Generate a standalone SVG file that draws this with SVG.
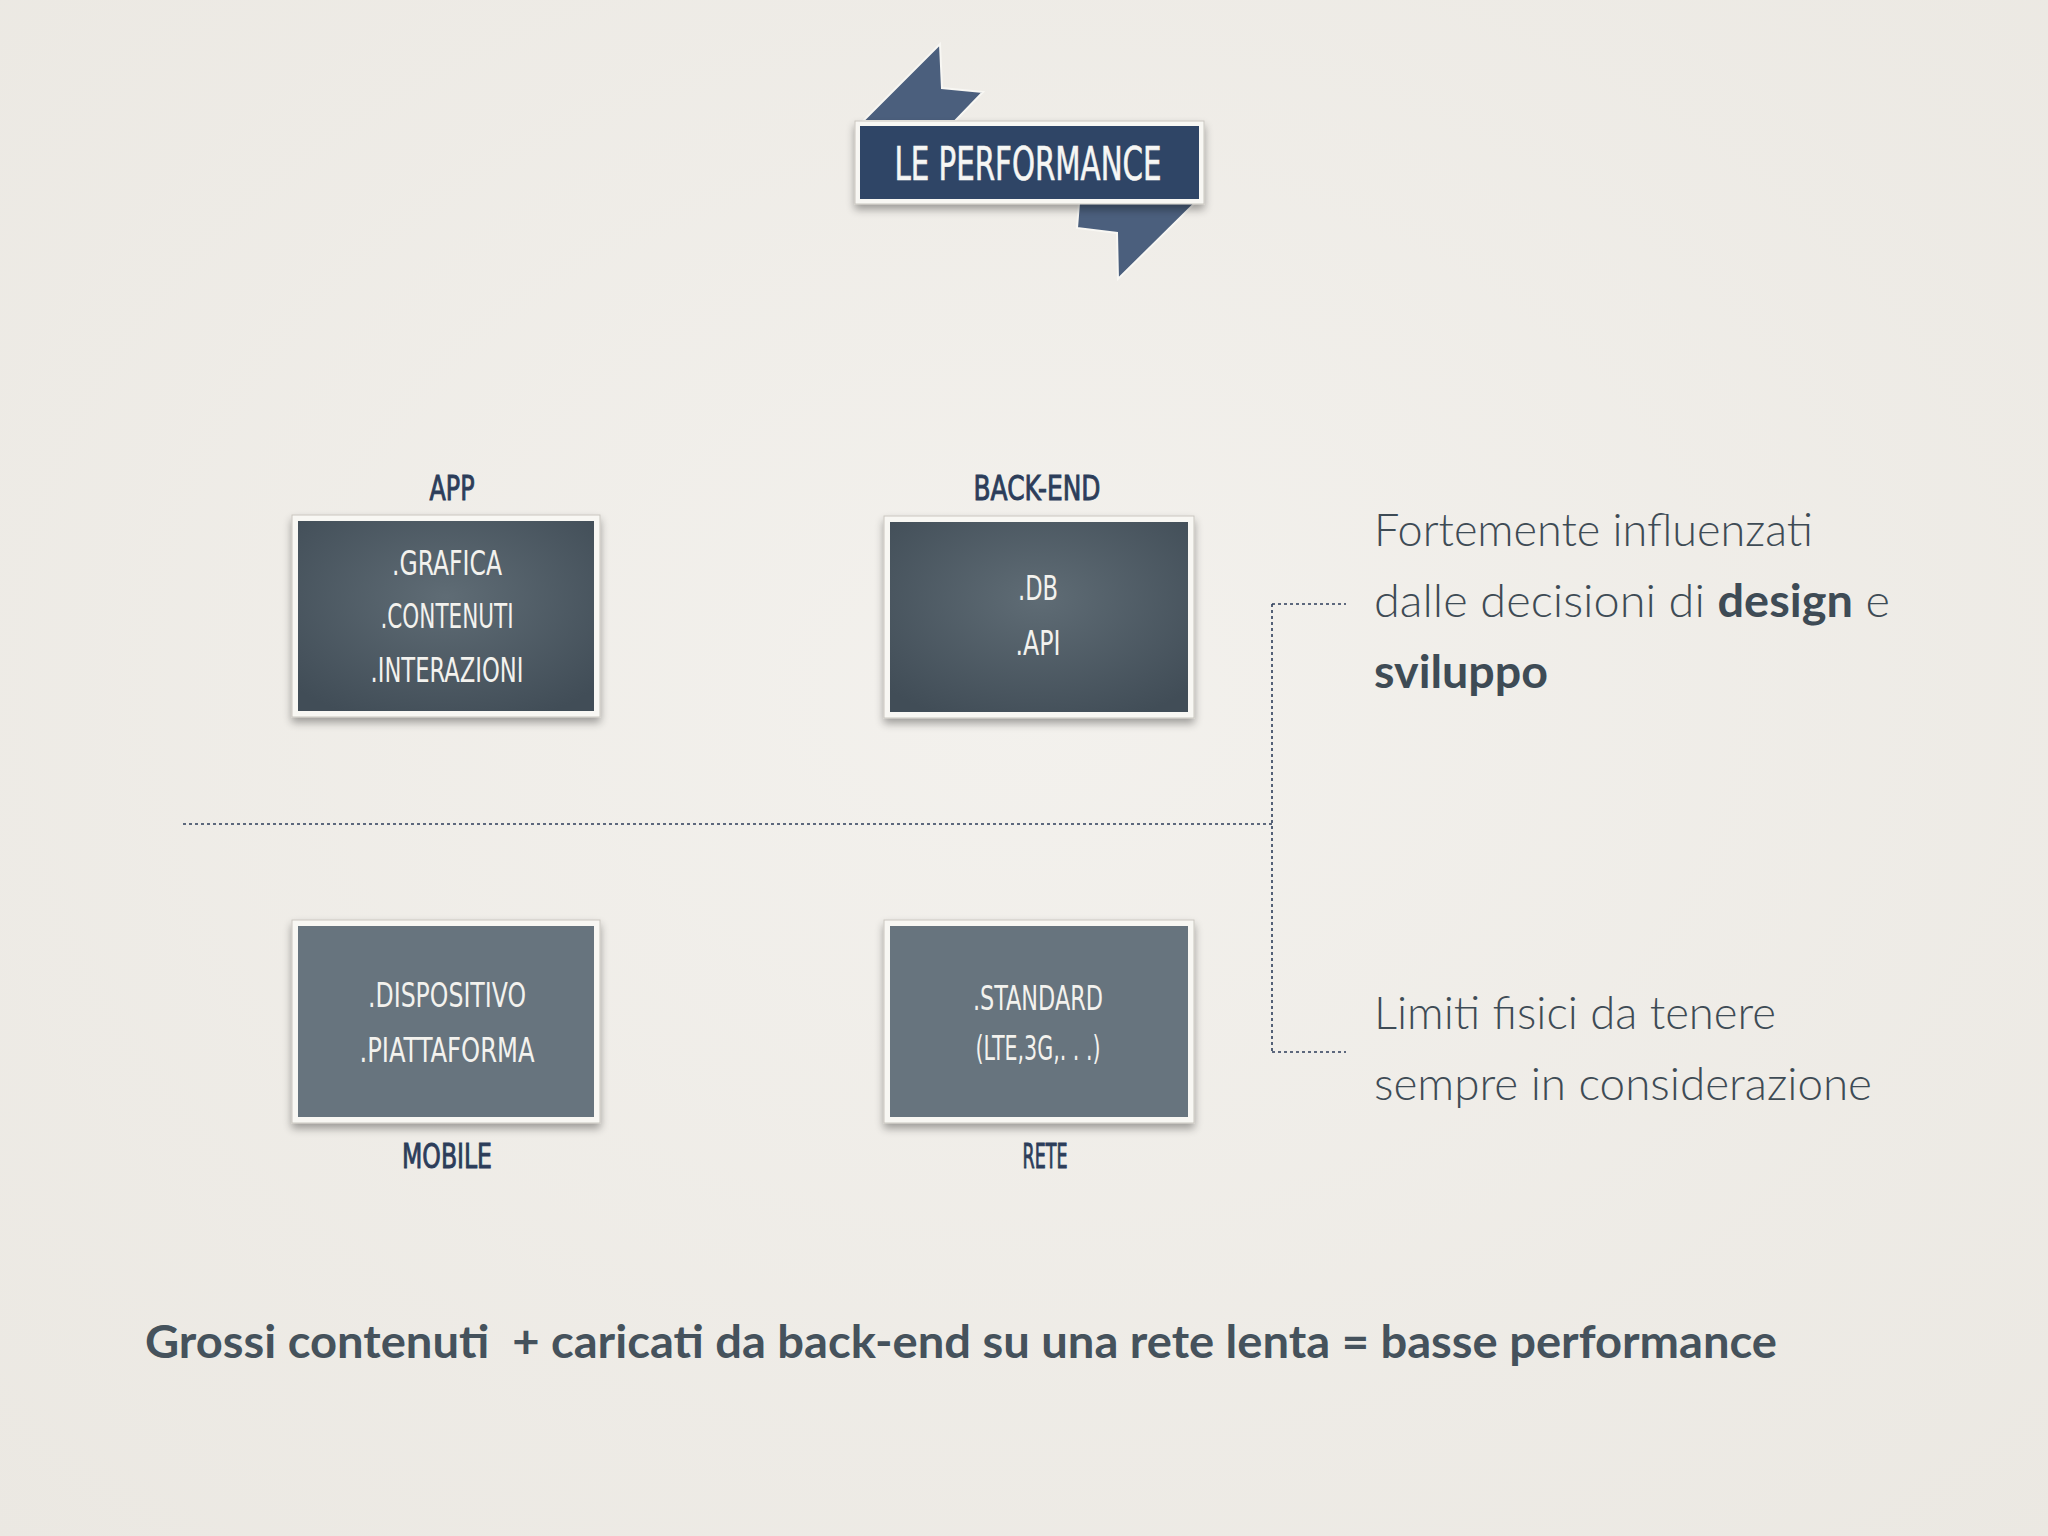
<svg xmlns="http://www.w3.org/2000/svg" width="2048" height="1536" viewBox="0 0 2048 1536">
<defs>
<style>
.cond{font-family:"DejaVu Sans Condensed","Liberation Sans Narrow","DejaVu Sans",sans-serif;font-stretch:condensed;text-anchor:middle}
.lbl{fill:#2c3d5a;font-size:34px;stroke:#2c3d5a;stroke-width:0.9}
.in{fill:#f3f2ee;font-size:34px}
.body{font-family:Lato,"Noto Sans",sans-serif;font-weight:300;font-size:45px;fill:#3e4b55}
.bold{font-weight:700;fill:#3e4b55}
.frame{fill:#f8f7f3;stroke:#c9c6bf;stroke-width:1}
.dot{fill:none;stroke:#2c3d5a;stroke-width:1.6;stroke-dasharray:3 3}
</style>
<radialGradient id="paper" cx="50%" cy="45%" r="75%">
<stop offset="0" stop-color="#f3f1ed"/>
<stop offset="1" stop-color="#ebe8e2"/>
</radialGradient>
<radialGradient id="darkbox" cx="50%" cy="40%" r="70%">
<stop offset="0" stop-color="#5f6c75"/>
<stop offset="1" stop-color="#414d57"/>
</radialGradient>
<filter id="sh" x="-10%" y="-10%" width="120%" height="130%">
<feGaussianBlur in="SourceAlpha" stdDeviation="4"/>
<feOffset dy="5" result="b"/>
<feComponentTransfer><feFuncA type="linear" slope="0.35"/></feComponentTransfer>
<feMerge><feMergeNode/><feMergeNode in="SourceGraphic"/></feMerge>
</filter>
</defs>
<rect width="2048" height="1536" fill="url(#paper)"/>

<g id="title">
<polygon points="863,121 940,44 942,88 983,92 955,121" fill="#4b5f7d" stroke="#f8f7f3" stroke-width="2"/>
<polygon points="1079,203 1195,203 1118,279 1117,233 1077,228" fill="#4b5f7d" stroke="#f8f7f3" stroke-width="2"/>
<rect x="855" y="121" width="349" height="83" class="frame" filter="url(#sh)"/>
<rect x="860" y="126" width="339" height="73" fill="#2f4566"/>
<text x="1028" y="180" class="cond" font-size="46" fill="#f6f6f4" stroke="#f6f6f4" stroke-width="0.6" textLength="267" lengthAdjust="spacingAndGlyphs">LE PERFORMANCE</text>
</g>

<g id="connectors">
<line x1="183" y1="824" x2="1272" y2="824" class="dot"/>
<line x1="1272" y1="604" x2="1272" y2="1052" class="dot"/>
<line x1="1272" y1="604" x2="1346" y2="604" class="dot"/>
<line x1="1272" y1="1052" x2="1346" y2="1052" class="dot"/>
</g>

<g id="app">
<text x="452" y="500" class="cond lbl" textLength="45" lengthAdjust="spacingAndGlyphs">APP</text>
<rect x="292" y="515" width="308" height="202" class="frame" filter="url(#sh)"/>
<rect x="298" y="521" width="296" height="190" fill="url(#darkbox)"/>
<text x="447" y="575" class="cond in" textLength="110" lengthAdjust="spacingAndGlyphs">.GRAFICA</text>
<text x="447" y="628" class="cond in" textLength="133" lengthAdjust="spacingAndGlyphs">.CONTENUTI</text>
<text x="447" y="682" class="cond in" textLength="153" lengthAdjust="spacingAndGlyphs">.INTERAZIONI</text>
</g>

<g id="backend">
<text x="1037" y="500" class="cond lbl" textLength="127" lengthAdjust="spacingAndGlyphs">BACK-END</text>
<rect x="884" y="516" width="310" height="202" class="frame" filter="url(#sh)"/>
<rect x="890" y="522" width="298" height="190" fill="url(#darkbox)"/>
<text x="1038" y="600" class="cond in" textLength="40" lengthAdjust="spacingAndGlyphs">.DB</text>
<text x="1038" y="655" class="cond in" textLength="45" lengthAdjust="spacingAndGlyphs">.API</text>
</g>

<g id="mobile">
<rect x="292" y="920" width="308" height="203" class="frame" filter="url(#sh)"/>
<rect x="298" y="926" width="296" height="191" fill="#67747e"/>
<text x="447" y="1007" class="cond in" textLength="158" lengthAdjust="spacingAndGlyphs">.DISPOSITIVO</text>
<text x="447" y="1062" class="cond in" textLength="175" lengthAdjust="spacingAndGlyphs">.PIATTAFORMA</text>
<text x="447" y="1168" class="cond lbl" textLength="90" lengthAdjust="spacingAndGlyphs">MOBILE</text>
</g>

<g id="rete">
<rect x="884" y="920" width="310" height="203" class="frame" filter="url(#sh)"/>
<rect x="890" y="926" width="298" height="191" fill="#67747e"/>
<text x="1038" y="1010" class="cond in" textLength="130" lengthAdjust="spacingAndGlyphs">.STANDARD</text>
<text x="1038" y="1060" class="cond in" font-size="22" textLength="125" lengthAdjust="spacingAndGlyphs">(LTE,3G,. . .)</text>
<text x="1045" y="1168" class="cond lbl" textLength="45" lengthAdjust="spacingAndGlyphs">RETE</text>
</g>

<g id="note-design">
<text x="1374" y="546" class="body" textLength="439" lengthAdjust="spacingAndGlyphs">Fortemente influenzati</text>
<text x="1374" y="617" class="body" textLength="516" lengthAdjust="spacingAndGlyphs">dalle decisioni di <tspan class="bold">design</tspan> e</text>
<text x="1374" y="688" class="body"><tspan class="bold" textLength="174" lengthAdjust="spacingAndGlyphs">sviluppo</tspan></text>
</g>

<g id="note-limits">
<text x="1374" y="1029" class="body" textLength="402" lengthAdjust="spacingAndGlyphs">Limiti fisici da tenere</text>
<text x="1374" y="1100" class="body" textLength="498" lengthAdjust="spacingAndGlyphs">sempre in considerazione</text>
</g>

<g id="summary">
<text x="145" y="1358" font-family="Lato,'Noto Sans',sans-serif" font-weight="700" font-size="46" fill="#45525c" textLength="1632" lengthAdjust="spacingAndGlyphs" xml:space="preserve">Grossi contenuti  + caricati da back-end su una rete lenta = basse performance</text>
</g>
</svg>
